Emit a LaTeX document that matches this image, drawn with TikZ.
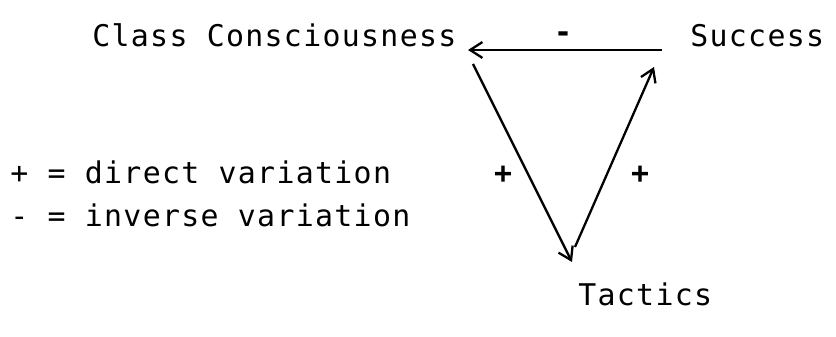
\documentclass[tikz,border=0pt]{standalone}
\usepackage{fontspec}
\setmonofont[LetterSpace=4.4]{DejaVu Sans Mono}
\usetikzlibrary{arrows.meta}

\begin{document}
\begin{tikzpicture}[x=0.02cm, y=-0.02cm,
		font=\ttfamily\fontsize{17}{20}\selectfont,
		lbl/.style={anchor=base west, inner sep=0pt},
		sgn/.style={inner sep=0pt, font=\ttfamily\bfseries\fontsize{17}{20}\selectfont},
		>={Straight Barb[length=7pt, width=9pt]}]
			\useasboundingbox (0,0) rectangle (836,337);

			% --- Labels ---
			\node[lbl] (cls) at (92,47) {Class Consciousness};
			\node[lbl] (suc) at (690,47) {Success};
			\node[lbl] (tac) at (578,306) {Tactics};

			% --- Key ---
			\node[lbl] (dir) at (10,184) {+ = direct variation};
			\node[lbl] (inv) at (10,227) {- = inverse variation};

			% arrow ends
			\coordinate (cA) at (468,50);
			\coordinate (cB) at (473,64);
			\coordinate (sA) at (662,50);
			\coordinate (sB) at (654,67);
			\coordinate (tA) at (572,262);
			\coordinate (tB) at (575,247);

			\draw[->, line width=1.3pt] (sA) -- (cA);
			\draw[->, line width=1.3pt] (cB) -- (tA);
			\draw[->, line width=1.3pt] (tB) -- (sB);

			% signs on the arrows
			\node[sgn] (m1) at (563,37) {-};
			\node[sgn] (p1) at (503,175) {+};
			\node[sgn] (p2) at (640,175) {+};
		\end{tikzpicture}
\end{document}
